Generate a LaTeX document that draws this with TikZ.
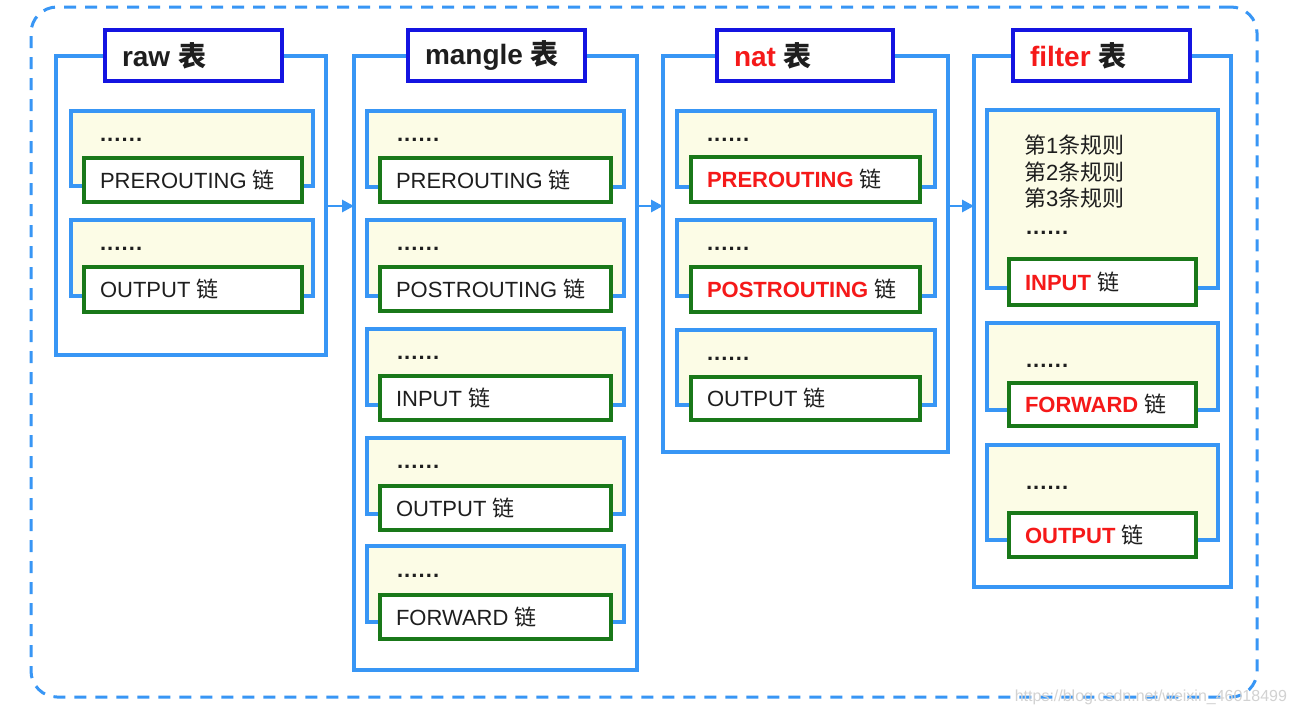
\documentclass[tikz,border=0pt]{standalone}
\usepackage{fontspec}
\setmainfont{Liberation Sans}
\newfontfamily\cjk{Noto Sans CJK SC}
\usetikzlibrary{arrows.meta}
\definecolor{lineblue}{RGB}{56,150,245}
\definecolor{titleblue}{RGB}{20,20,225}
\definecolor{chaingreen}{RGB}{25,120,25}
\definecolor{softyellow}{RGB}{252,252,230}
\definecolor{hotred}{RGB}{245,25,25}
\definecolor{inktext}{RGB}{30,30,30}
\newcommand\rbox[6]{%
  \node[#1, anchor=north west, minimum width={#5-#3}, minimum height={#6-#4}] (#2) at (#3,#4) {};}
\newcommand\sixdots{.\kern1.1pt.\kern1.1pt.\kern1.1pt.\kern1.1pt.\kern1.1pt.}
\newcommand\redtxt[1]{\textcolor{hotred}{\bfseries #1}}
\begin{document}
\begin{tikzpicture}[x=1pt,y=-1pt,
  every node/.style={inner sep=0pt, outer sep=0pt},
  tablebox/.style={draw=lineblue, line width=3.2pt, fill=white},
  titlebox/.style={draw=titleblue, line width=3.4pt, fill=white},
  subbox/.style={draw=lineblue, line width=3.2pt, fill=softyellow},
  chainbox/.style={draw=chaingreen, line width=3.4pt, fill=white},
  chaintxt/.style={anchor=west, text=inktext, font=\fontsize{22}{26}\selectfont},
  titletxt/.style={anchor=west, text=inktext, font=\fontsize{28}{32}\selectfont\bfseries},
  dotstxt/.style={anchor=west, text=inktext, font=\fontsize{22}{26}\selectfont\bfseries},
  flowarrow/.style={draw=lineblue, line width=2.8pt, -{Triangle[length=12pt,width=12pt]}},
]
\useasboundingbox (0,0) rectangle (1295,715);
\fill[white] (0,0) rectangle (1295,715);
% outer dashed frame
\node[draw=lineblue, line width=3pt, dash pattern=on 12pt off 9pt, rounded corners=26pt,
  anchor=north west, minimum width=1226, minimum height=690] (frame) at (31,7) {};
% ---------- raw ----------
\rbox{tablebox}{raw}{56}{56}{326}{355}
\rbox{titlebox}{rawT}{105}{30}{282}{81}
\node[titletxt] at ([xshift=17pt]rawT.west) {raw {\cjk\bfseries 表}};
\rbox{subbox}{rawS1}{71}{111}{313}{186}
\rbox{chainbox}{rawG1}{84}{158}{302}{202}
\node[dotstxt] at (100,140) {\sixdots};
\node[chaintxt] at ([xshift=16pt]rawG1.west) {PREROUTING {\cjk 链}};
\rbox{subbox}{rawS2}{71}{220}{313}{296}
\rbox{chainbox}{rawG2}{84}{267}{302}{312}
\node[dotstxt] at (100,249) {\sixdots};
\node[chaintxt] at ([xshift=16pt]rawG2.west) {OUTPUT {\cjk 链}};
% ---------- mangle ----------
\rbox{tablebox}{mangle}{354}{56}{637}{670}
\rbox{titlebox}{mangleT}{408}{30}{585}{81}
\node[titletxt] at ([xshift=17pt]mangleT.west) {mangle {\cjk\bfseries 表}};
\rbox{subbox}{mS1}{367}{111}{624}{187}
\rbox{chainbox}{mG1}{380}{158}{611}{202}
\node[dotstxt] at (397,140) {\sixdots};
\node[chaintxt] at ([xshift=16pt]mG1.west) {PREROUTING {\cjk 链}};
\rbox{subbox}{mS2}{367}{220}{624}{296}
\rbox{chainbox}{mG2}{380}{267}{611}{311}
\node[dotstxt] at (397,249) {\sixdots};
\node[chaintxt] at ([xshift=16pt]mG2.west) {POSTROUTING {\cjk 链}};
\rbox{subbox}{mS3}{367}{329}{624}{405}
\rbox{chainbox}{mG3}{380}{376}{611}{420}
\node[dotstxt] at (397,358) {\sixdots};
\node[chaintxt] at ([xshift=16pt]mG3.west) {INPUT {\cjk 链}};
\rbox{subbox}{mS4}{367}{438}{624}{514}
\rbox{chainbox}{mG4}{380}{486}{611}{530}
\node[dotstxt] at (397,467) {\sixdots};
\node[chaintxt] at ([xshift=16pt]mG4.west) {OUTPUT {\cjk 链}};
\rbox{subbox}{mS5}{367}{546}{624}{622}
\rbox{chainbox}{mG5}{380}{595}{611}{639}
\node[dotstxt] at (397,576) {\sixdots};
\node[chaintxt] at ([xshift=16pt]mG5.west) {FORWARD {\cjk 链}};
% ---------- nat ----------
\rbox{tablebox}{nat}{663}{56}{948}{452}
\rbox{titlebox}{natT}{717}{30}{893}{81}
\node[titletxt] at ([xshift=17pt]natT.west) {\textcolor{hotred}{nat} {\cjk\bfseries 表}};
\rbox{subbox}{nS1}{677}{111}{935}{187}
\rbox{chainbox}{nG1}{691}{157}{920}{202}
\node[dotstxt] at (707,140) {\sixdots};
\node[chaintxt] at ([xshift=16pt]nG1.west) {\redtxt{PREROUTING} {\cjk 链}};
\rbox{subbox}{nS2}{677}{220}{935}{296}
\rbox{chainbox}{nG2}{691}{267}{920}{312}
\node[dotstxt] at (707,249) {\sixdots};
\node[chaintxt] at ([xshift=16pt]nG2.west) {\redtxt{POSTROUTING} {\cjk 链}};
\rbox{subbox}{nS3}{677}{330}{935}{405}
\rbox{chainbox}{nG3}{691}{377}{920}{420}
\node[dotstxt] at (707,359) {\sixdots};
\node[chaintxt] at ([xshift=16pt]nG3.west) {OUTPUT {\cjk 链}};
% ---------- filter ----------
\rbox{tablebox}{filter}{974}{56}{1231}{587}
\rbox{titlebox}{filterT}{1013}{30}{1190}{81}
\node[titletxt] at ([xshift=17pt]filterT.west) {\textcolor{hotred}{filter} {\cjk\bfseries 表}};
\rbox{subbox}{fS1}{987}{110}{1218}{288}
\rbox{chainbox}{fG1}{1009}{259}{1196}{305}
\node[chaintxt] at (1024,145) {{\cjk 第}1{\cjk 条规则}};
\node[chaintxt] at (1024,172) {{\cjk 第}2{\cjk 条规则}};
\node[chaintxt] at (1024,198) {{\cjk 第}3{\cjk 条规则}};
\node[dotstxt] at (1026,233) {\sixdots};
\node[chaintxt] at ([xshift=16pt]fG1.west) {\redtxt{INPUT} {\cjk 链}};
\rbox{subbox}{fS2}{987}{323}{1218}{410}
\rbox{chainbox}{fG2}{1009}{383}{1196}{426}
\node[dotstxt] at (1026,366) {\sixdots};
\node[chaintxt] at ([xshift=16pt]fG2.west) {\redtxt{FORWARD} {\cjk 链}};
\rbox{subbox}{fS3}{987}{445}{1218}{540}
\rbox{chainbox}{fG3}{1009}{513}{1196}{557}
\node[dotstxt] at (1026,488) {\sixdots};
\node[chaintxt] at ([xshift=16pt]fG3.west) {\redtxt{OUTPUT} {\cjk 链}};
% ---------- arrows ----------
\coordinate (arrowy) at (0,206);
\draw[flowarrow] (raw.east |- arrowy) -- (mangle.west |- arrowy);
\draw[flowarrow] (mangle.east |- arrowy) -- (nat.west |- arrowy);
\draw[flowarrow] (nat.east |- arrowy) -- (filter.west |- arrowy);
% watermark
\node[anchor=east, text=gray!35, font=\fontsize{16}{18}\selectfont] (wm) at (1287,697) {https://blog.csdn.net/weixin\_46018499};
\end{tikzpicture}
\end{document}
